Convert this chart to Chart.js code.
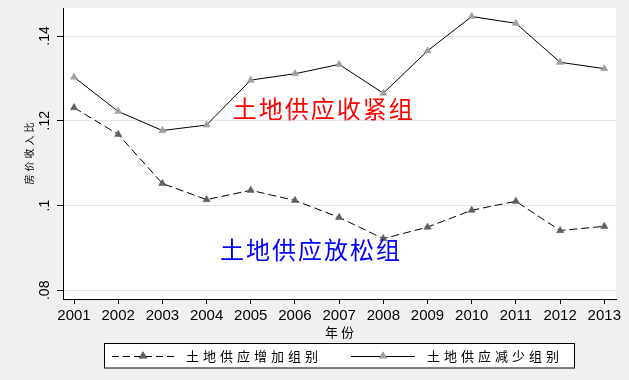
<!DOCTYPE html>
<html>
<head>
<meta charset="utf-8">
<script src="https://cdn.jsdelivr.net/npm/chart.js@4.4.0/dist/chart.umd.min.js"></script>
<style>
    html, body { margin: 0; padding: 0; background: #f0f0f0; }
    #wrap { width: 629px; height: 380px; }
</style>
</head>
<body>
<div id="wrap"><canvas id="chart" width="629" height="380"></canvas></div>
<script>
// Data
const years = [2001, 2002, 2003, 2004, 2005, 2006, 2007, 2008, 2009, 2010, 2011, 2012, 2013];
const increaseGroup = [0.1231, 0.1168, 0.1052, 0.1014, 0.1036, 0.1012, 0.0972, 0.0922, 0.0949, 0.0989, 0.1010, 0.0941, 0.0951];
const decreaseGroup = [0.1303, 0.1222, 0.1177, 0.1190, 0.1296, 0.1311, 0.1333, 0.1265, 0.1365, 0.1446, 0.1430, 0.1338, 0.1323];
const yTicks = [0.08, 0.10, 0.12, 0.14];
const yTickLabels = ['.08', '.1', '.12', '.14'];
const seriesNames = ['土地供应增加组别', '土地供应减少组别'];
const yTitle = '房价收入比';
const xTitle = '年份';

// Text notes placed in data coordinates
const notes = [
    { text: '土地供应收紧组', x: 2006.63, y: 0.1228, color: '#ff0000' },
    { text: '土地供应放松组', x: 2006.34, y: 0.0896, color: '#0000ff' }
];

const LATIN = '"Liberation Sans", Arial, sans-serif';
const CJK = '"Noto Sans CJK SC", sans-serif';
const darkMarker = '#5f5f5f';
const lightMarker = '#a0a0a0';

// Draw text one glyph at a time with extra spacing
function spacedText(ctx, text, x, y, gap, align) {
    const chars = [...text];
    const widths = chars.map(c => ctx.measureText(c).width);
    const total = widths.reduce((s, w) => s + w, 0) + gap * (chars.length - 1);
    let cx = align === 'center' ? x - total / 2 : x;
    ctx.textAlign = 'left';
    chars.forEach((c, i) => {
        ctx.fillText(c, cx, y);
        cx += widths[i] + gap;
    });
}

const stataLook = {
    id: 'stataLook',
    beforeDraw(chart) {
        const { ctx, chartArea: a } = chart;
        ctx.save();
        ctx.fillStyle = '#f0f0f0';
        ctx.fillRect(0, 0, chart.width, chart.height);
        ctx.fillStyle = '#ffffff';
        ctx.fillRect(a.left, a.top, a.right - a.left, a.bottom - a.top);
        ctx.restore();
    },
    afterDraw(chart) {
        const { ctx, scales } = chart;
        const xs = scales.x, ys = scales.y;
        ctx.save();
        ctx.fillStyle = '#000';

        // rotated y tick labels
        ctx.font = '14px ' + LATIN;
        ctx.textBaseline = 'alphabetic';
        ctx.textAlign = 'center';
        yTicks.forEach((v, i) => {
            ctx.save();
            ctx.translate(49, ys.getPixelForValue(v));
            ctx.rotate(-Math.PI / 2);
            ctx.fillText(yTickLabels[i], 0, 0);
            ctx.restore();
        });

        // y title
        ctx.save();
        ctx.font = '10px ' + CJK;
        ctx.textBaseline = 'middle';
        ctx.translate(29, (ys.top + ys.bottom) / 2);
        ctx.rotate(-Math.PI / 2);
        spacedText(ctx, yTitle, 0, 0, 3, 'center');
        ctx.restore();

        // x title
        ctx.font = '13px ' + CJK;
        ctx.textBaseline = 'middle';
        spacedText(ctx, xTitle, (xs.left + xs.right) / 2, 332, 3, 'center');

        // notes
        ctx.font = '24px ' + CJK;
        notes.forEach(n => {
            ctx.fillStyle = n.color;
            spacedText(ctx, n.text, xs.getPixelForValue(n.x), ys.getPixelForValue(n.y), 2, 'center');
        });

        // legend
        ctx.fillStyle = '#fff';
        ctx.fillRect(104.5, 343.5, 470, 24.5);
        ctx.strokeStyle = '#000';
        ctx.lineWidth = 1;
        ctx.strokeRect(104.5, 343.5, 470, 24.5);
        const ly = 356;
        const items = [
            { x0: 112, x1: 177, mx: 143, dash: [7, 4], color: darkMarker, tx: 186 },
            { x0: 351, x1: 415, mx: 383, dash: [], color: lightMarker, tx: 427 }
        ];
        items.forEach((it, i) => {
            ctx.beginPath();
            ctx.setLineDash(it.dash);
            ctx.moveTo(it.x0, ly + 0.5);
            ctx.lineTo(it.x1, ly + 0.5);
            ctx.stroke();
            ctx.setLineDash([]);
            ctx.fillStyle = it.color;
            ctx.strokeStyle = it.color;
            Chart.helpers.drawPoint(ctx, { pointStyle: 'triangle', radius: 4.2, rotation: 0, borderWidth: 0.5 }, it.mx, ly);
            ctx.strokeStyle = '#000';
            ctx.fillStyle = '#000';
            ctx.font = '13px ' + CJK;
            ctx.textBaseline = 'middle';
            spacedText(ctx, seriesNames[i], it.tx, ly, 4, 'left');
        });
        ctx.restore();
    }
};

const ctx = document.getElementById('chart').getContext('2d');
const chart = new Chart(ctx, {
    type: 'line',
    data: {
        datasets: [{
            label: seriesNames[0],
            data: years.map((yr, i) => ({ x: yr, y: increaseGroup[i] })),
            borderColor: '#000',
            borderWidth: 1,
            borderDash: [8, 4],
            pointStyle: 'triangle',
            pointRadius: 4.2,
            pointBackgroundColor: darkMarker,
            pointBorderColor: darkMarker,
            pointBorderWidth: 0.5,
            tension: 0
        }, {
            label: seriesNames[1],
            data: years.map((yr, i) => ({ x: yr, y: decreaseGroup[i] })),
            borderColor: '#000',
            borderWidth: 1,
            pointStyle: 'triangle',
            pointRadius: 4.2,
            pointBackgroundColor: lightMarker,
            pointBorderColor: lightMarker,
            pointBorderWidth: 0.5,
            tension: 0
        }]
    },
    options: {
        responsive: false,
        animation: false,
        devicePixelRatio: 1,
        layout: { padding: { top: 8, right: 13, left: 0, bottom: 0 } },
        plugins: {
            legend: { display: false },
            tooltip: { enabled: false }
        },
        scales: {
            x: {
                type: 'linear',
                min: 2000.751,
                max: 2013.265,
                afterBuildTicks: s => { s.ticks = years.map(v => ({ value: v })); },
                afterFit: s => { s.height = 81; },
                grid: { drawOnChartArea: false, drawTicks: true, tickLength: 5, tickColor: '#000' },
                border: { display: true, color: '#000', width: 1 },
                ticks: {
                    color: '#000',
                    font: { family: LATIN, size: 15 },
                    padding: 3,
                    maxRotation: 0,
                    autoSkip: false,
                    callback: v => String(v)
                }
            },
            y: {
                min: 0.07795,
                max: 0.14661,
                afterBuildTicks: s => { s.ticks = yTicks.map(v => ({ value: v })); },
                afterFit: s => { s.width = 63; },
                grid: { color: '#e4e4e4', tickColor: '#000', tickLength: 6 },
                border: { display: true, color: '#000', width: 1 },
                ticks: { display: false }
            }
        }
    },
    plugins: [stataLook]
});
</script>
</body>
</html>
